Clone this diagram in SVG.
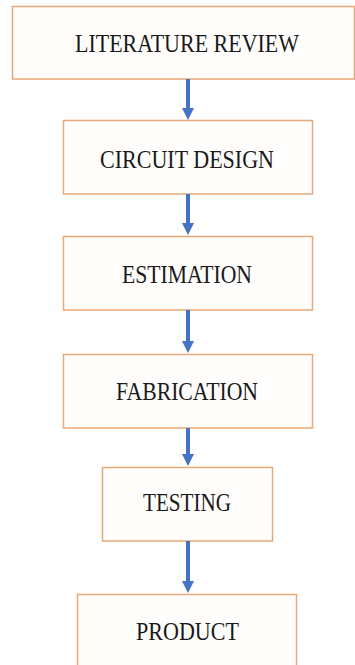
<svg xmlns="http://www.w3.org/2000/svg" width="355" height="665" viewBox="0 0 355 665">
<style>
.box{fill:#fffefc;stroke:#e8a878;stroke-width:1.5}
.lbl{font-family:"Liberation Serif","Times New Roman",serif;font-size:24.5px;fill:#1a1a1a;text-anchor:middle}
.conn{stroke:#4472c4;stroke-width:4;fill:none}
.head{fill:#4472c4}
</style>
<rect width="355" height="665" fill="#ffffff"/>
<g id="n1"><rect class="box" x="12.5" y="6.5" width="342" height="72.5"/><text class="lbl" x="187" y="51.5" textLength="224" lengthAdjust="spacingAndGlyphs">LITERATURE REVIEW</text></g>
<g id="n2"><rect class="box" x="63.5" y="120.5" width="249" height="73.5"/><text class="lbl" x="187" y="168" textLength="174" lengthAdjust="spacingAndGlyphs">CIRCUIT DESIGN</text></g>
<g id="n3"><rect class="box" x="63.5" y="236.5" width="249" height="73.5"/><text class="lbl" x="187" y="283" textLength="130" lengthAdjust="spacingAndGlyphs">ESTIMATION</text></g>
<g id="n4"><rect class="box" x="63.5" y="354.5" width="249" height="73.5"/><text class="lbl" x="187" y="400" textLength="142" lengthAdjust="spacingAndGlyphs">FABRICATION</text></g>
<g id="n5"><rect class="box" x="102.5" y="467.5" width="170" height="73.5"/><text class="lbl" x="187" y="511" textLength="88" lengthAdjust="spacingAndGlyphs">TESTING</text></g>
<g id="n6"><rect class="box" x="77.5" y="594.5" width="219" height="75"/><text class="lbl" x="187.5" y="640" textLength="103" lengthAdjust="spacingAndGlyphs">PRODUCT</text></g>
<g id="connectors">
<line class="conn" x1="188" y1="79" x2="188" y2="110"/><polygon class="head" points="182,108 194,108 188,120"/>
<line class="conn" x1="188" y1="194" x2="188" y2="225"/><polygon class="head" points="182,223 194,223 188,235"/>
<line class="conn" x1="188" y1="310" x2="188" y2="343"/><polygon class="head" points="182,341 194,341 188,353"/>
<line class="conn" x1="188" y1="428" x2="188" y2="456"/><polygon class="head" points="182,454 194,454 188,466"/>
<line class="conn" x1="188" y1="541" x2="188" y2="583"/><polygon class="head" points="182,581 194,581 188,593"/>
</g>
</svg>
